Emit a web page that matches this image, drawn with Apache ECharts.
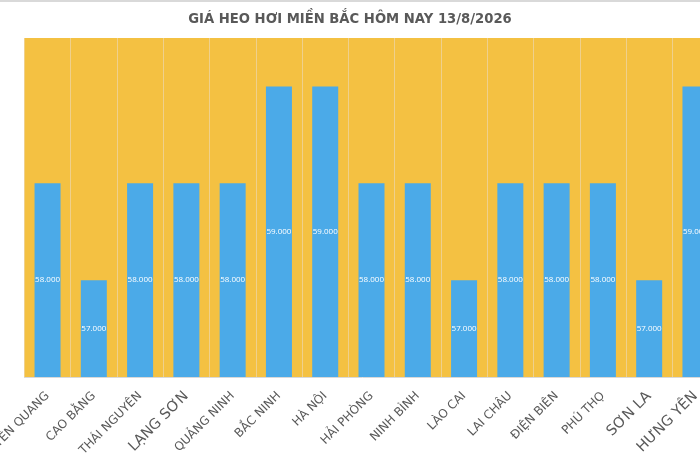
<!DOCTYPE html>
<html>
<head>
<meta charset="utf-8">
<script src="https://cdn.jsdelivr.net/npm/echarts@6/dist/echarts.min.js"></script>
<style>
  html, body { margin: 0; padding: 0; background: #fff; }
  #chart { width: 700px; height: 467px; }
</style>
</head>
<body>
<div id="chart"></div>
<script>
// Données du graphique
const tinhThanh = ['TUYÊN QUANG', 'CAO BẰNG', 'THÁI NGUYÊN', 'LẠNG SƠN', 'QUẢNG NINH', 'BẮC NINH', 'HÀ NỘI',
  'HẢI PHÒNG', 'NINH BÌNH', 'LÀO CAI', 'LAI CHÂU', 'ĐIỆN BIÊN', 'PHÚ THỌ', 'SƠN LA', 'HƯNG YÊN'];
const giaHeo = [58000, 57000, 58000, 58000, 58000, 59000, 59000, 58000, 58000, 57000, 58000, 58000, 58000, 57000, 59000];
// Các nhãn viết to hơn trong ảnh gốc
const nhanLon = ['LẠNG SƠN', 'SƠN LA', 'HƯNG YÊN'];

const chart = echarts.init(document.getElementById('chart'));

const option = {
  backgroundColor: '#ffffff',
  animation: false,
  title: {
    text: 'GIÁ HEO HƠI MIỀN BẮC HÔM NAY 13/8/2026',
    left: 'center',
    top: 8,
    textStyle: {
      fontFamily: 'DejaVu Sans',
      fontSize: 13.2,
      fontWeight: 'bold',
      color: '#595959'
    }
  },
  graphic: [{
    type: 'line',
    shape: { x1: 0, y1: 1, x2: 700, y2: 1 },
    style: { stroke: '#d9d9d9', lineWidth: 2 }
  }],
  // la grille déborde à droite comme sur l'image d'origine
  grid: { left: 24.4, right: -18.6, top: 38, bottom: 90, outerBoundsMode: 'none', containLabel: false },
  xAxis: {
    type: 'category',
    data: tinhThanh,
    axisLine: { lineStyle: { color: '#d9d9d9' } },
    axisTick: { show: false },
    splitArea: { show: true, interval: 0, areaStyle: { color: ['#f4c142'] } },
    splitLine: { show: true, interval: 0, lineStyle: { color: '#efd08c', width: 1 } },
    axisLabel: {
      interval: 0,
      rotate: 45,
      margin: 17,
      hideOverlap: false,
      formatter: function (v) {
        return nhanLon.indexOf(v) >= 0 ? '{lon|' + v + '}' : '{nho|' + v + '}';
      },
      rich: {
        nho: { fontFamily: 'DejaVu Sans', fontSize: 12, color: '#595959' },
        lon: { fontFamily: 'DejaVu Sans', fontSize: 14.5, color: '#595959' }
      }
    }
  },
  yAxis: {
    type: 'value',
    min: 56000,
    max: 59500,
    show: false,
    splitLine: { show: false }
  },
  series: [{
    type: 'bar',
    data: giaHeo,
    barWidth: 26,
    itemStyle: { color: '#4baae8' },
    label: {
      show: true,
      position: 'inside',
      color: '#ffffff',
      fontFamily: 'Open Sans',
      fontSize: 8,
      formatter: function (p) {
        return p.value.toLocaleString('vi-VN');
      }
    }
  }]
};

chart.setOption(option);
</script>
</body>
</html>
